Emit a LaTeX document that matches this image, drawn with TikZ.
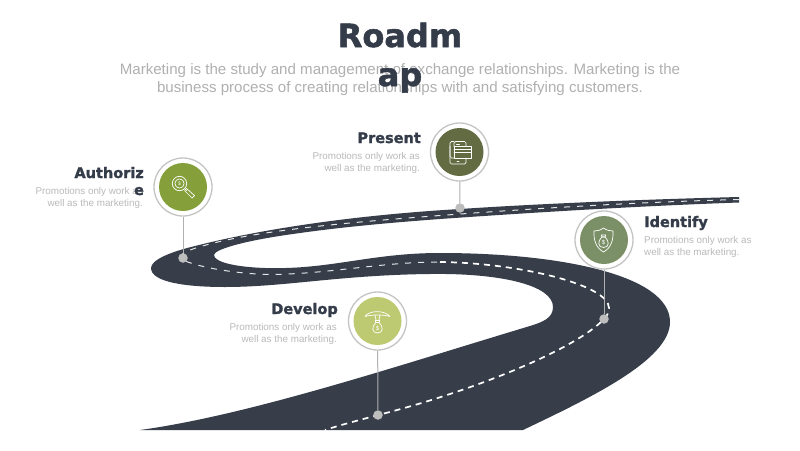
\documentclass[tikz,border=0pt]{standalone}
\usepackage{fontspec}
\setmainfont{Liberation Sans}
\newfontfamily\headfont[FakeBold=1.6]{DejaVu Sans Bold}
\definecolor{roadc}{HTML}{373E4A}
\definecolor{headc}{HTML}{343C4A}
\definecolor{greyt}{HTML}{BABABA}
\definecolor{greyb}{HTML}{B0B0B0}
\definecolor{ringc}{HTML}{C4C4C4}
\definecolor{dotc}{HTML}{BDBDBD}
\definecolor{connc}{HTML}{AEB0B2}
\definecolor{lanec}{HTML}{E4E5E6}
\definecolor{cauth}{HTML}{85A03A}
\definecolor{cpres}{HTML}{636B42}
\definecolor{ciden}{HTML}{7B9067}
\definecolor{cdev}{HTML}{BDCA72}
\tikzset{
  road/.style={fill=roadc,draw=none},
  laneup/.style={draw=lanec,dash pattern=on 6pt off 7pt,line width=1pt},
  lanelow/.style={draw=white,dash pattern=on 6pt off 5pt,line width=1.7pt},
  ringn/.style={circle,draw=ringc,line width=1.3pt,fill=white,minimum size=58pt,inner sep=0pt},
  disc/.style={circle,fill=#1,minimum size=48pt,inner sep=0pt},
  stopdot/.style={circle,fill=dotc,minimum size=9.5pt,inner sep=0pt},
  conn/.style={draw=connc,line width=1pt},
  ttl/.style={font=\headfont\fontsize{32}{32}\selectfont,text=headc,inner sep=0pt,anchor=base},
  sub/.style={font=\fontsize{15.1}{15.1}\selectfont,text=greyb,inner sep=0pt,anchor=base},
  hd/.style={font=\headfont\fontsize{14.5}{14.5}\selectfont,text=headc,inner sep=0pt},
  ds/.style={font=\fontsize{9.85}{9.85}\selectfont,text=greyt,inner sep=0pt},
  ico/.style={draw=white,line width=0.7pt,line join=round,line cap=round},
  dollar/.style={font=\fontsize{6}{6}\selectfont,text=white,inner sep=0pt}
}
\newcommand{\moneybag}[4]{% name, x, y, scale
  \draw[ico,shift={(#2,#3)},scale=#4] (-1.6,-5) .. controls (-6,-1) and (-6,5.5) .. (0,5.5) .. controls (6,5.5) and (6,-1) .. (1.6,-5) -- cycle;
  \draw[ico,shift={(#2,#3)},scale=#4] (-2.2,-7) -- (2.2,-7) -- (1.6,-5) -- (-1.6,-5) -- cycle;
  \node[dollar] (#1) at (#2,#3+0.6) {\$};
}
\begin{document}
\begin{tikzpicture}[x=1pt,y=-1pt]
\useasboundingbox (0,0) rectangle (800,450);
\fill[white] (0,0) rectangle (800,450);
% road
\fill[road]
  (739,197) .. controls (620,200) and (520,205) .. (460,209)
  .. controls (340,216) and (250,232) .. (195,246)
  .. controls (170,252) and (151,260) .. (151,268)
  .. controls (151,282) and (185,287) .. (225,287)
  .. controls (285,287) and (340,275) .. (430,274)
  .. controls (500,273) and (553,285) .. (553,307)
  .. controls (553,318) and (543,322) .. (530,326)
  .. controls (400,365) and (250,415) .. (140,430)
  -- (523,430)
  .. controls (590,398) and (670,360) .. (670,322)
  .. controls (670,275) and (560,253) .. (440,253)
  .. controls (370,253) and (330,270) .. (265,268)
  .. controls (235,267) and (214,262) .. (214,255)
  .. controls (214,250) and (240,241) .. (300,233)
  .. controls (350,226) and (400,222) .. (440,219)
  .. controls (540,212) and (640,206) .. (739,202.5)
  -- cycle;
% lanes
\draw[laneup] (739,199.5) .. controls (640,202) and (540,208) .. (440,215.5)
  .. controls (340,223) and (240,232) .. (190,250)
  .. controls (180,254) and (178,258) .. (183,260)
  .. controls (200,268) and (240,274) .. (270,274.5)
  .. controls (330,274) and (380,262) .. (440,262);
\draw[lanelow] (440,262) .. controls (520,263) and (609,285) .. (609,308)
  .. controls (609,312) and (607,316) .. (604,319)
  .. controls (575,350) and (470,392) .. (378,415)
  .. controls (360,420) and (340,425) .. (325,430);
% authorize
\node[ringn] (ra) at (183,187) {};
\node[disc=cauth] (ca) at (183,187) {};
\node[stopdot] (da) at (183,258) {};
\draw[conn] (ra) -- (da);
% present
\node[ringn] (rp) at (459.5,152) {};
\node[disc=cpres] (cp) at (459.5,152) {};
\node[stopdot] (dp) at (460,208) {};
\draw[conn] (rp) -- (dp);
% identify
\node[ringn] (ri) at (604,240) {};
\node[disc=ciden] (ci) at (604,240) {};
\node[stopdot] (di) at (604,319) {};
\draw[conn] (ri) -- (di);
% develop
\node[ringn] (rd) at (377.5,321) {};
\node[disc=cdev] (cd) at (377.5,321) {};
\node[stopdot] (dd) at (378,415) {};
\draw[conn] (rd) -- (dd);
% icon: magnifier
\draw[ico] (179.5,183.5) circle (7.2pt);
\draw[ico] (179.5,183.5) circle (4.6pt);
\node[dollar,font=\fontsize{5}{5}\selectfont] (ia) at (179.5,183.5) {\$};
\draw[ico] (184.8,188.8) -- (186.5,190.5);
\draw[ico] (186.5,188.5) -- (194.5,195.5) -- (192,198) -- (184.5,190.5) -- cycle;
% icon: phone and card
\draw[ico,rounded corners=1.5pt] (454,146.5) -- (454,141.5) -- (466,141.5) -- (466,146.5);
\draw[ico,rounded corners=1.5pt] (454,158) -- (450,158) -- (450,141.5) -- (454,141.5);
\draw[ico,rounded corners=1.5pt] (450,146) -- (450,164) -- (466,164) -- (466,158);
\draw[ico] (454,146.8) rectangle (471,158);
\draw[ico] (454,149.8) -- (471,149.8);
\draw[ico] (454,152) -- (471,152);
\draw[ico] (456.5,144) -- (459.5,144);
\draw[ico] (457,161) -- (459,161);
% icon: shield and bag
\draw[ico] (603.5,228) .. controls (600,230.5) and (597,231) .. (594,231) .. controls (593.5,240) and (596,248) .. (603.5,252) .. controls (611,248) and (613.5,240) .. (613,231) .. controls (610,231) and (607,230.5) .. (603.5,228) -- cycle;
\moneybag{ib}{603.5}{242}{1}
% icon: umbrella and bag
\draw[ico] (365,316.5) .. controls (369,310) and (385,310) .. (390,316.5) .. controls (384,314.5) and (371,314.5) .. (365,316.5) -- cycle;
\draw[ico] (375,315) -- (376,320);
\draw[ico] (380,315) -- (379,320);
\moneybag{id}{377.5}{327.5}{1}
% title
\node[ttl] (t1) at (400,47) {Roadm};
\node[sub] (s1) at (400,74) {Marketing is the study and management of exchange relationships. Marketing is the};
\node[sub] (s2) at (400,92) {business process of creating relationships with and satisfying customers.};
\node[ttl] (t2) at (400,86) {ap};
% authorize text
\node[hd,anchor=base east] (ha) at (144,178) {Authoriz};
\node[ds,anchor=base east] (a1) at (143,194) {Promotions only work as};
\node[ds,anchor=base east] (a2) at (143,206) {well as the marketing.};
\node[hd,anchor=base] (ha2) at (139,195) {e};
% present text
\node[hd,anchor=base east] (hp) at (421,143) {Present};
\node[ds,anchor=base east] (p1) at (420,159) {Promotions only work as};
\node[ds,anchor=base east] (p2) at (420,171) {well as the marketing.};
% identify text
\node[hd,anchor=base west] (hi) at (644,227) {Identify};
\node[ds,anchor=base west] (i1) at (644,243) {Promotions only work as};
\node[ds,anchor=base west] (i2) at (644,255) {well as the marketing.};
% develop text
\node[hd,anchor=base east] (hd1) at (338,314) {Develop};
\node[ds,anchor=base east] (d1) at (337,330) {Promotions only work as};
\node[ds,anchor=base east] (d2) at (337,342) {well as the marketing.};
\end{tikzpicture}
\end{document}
